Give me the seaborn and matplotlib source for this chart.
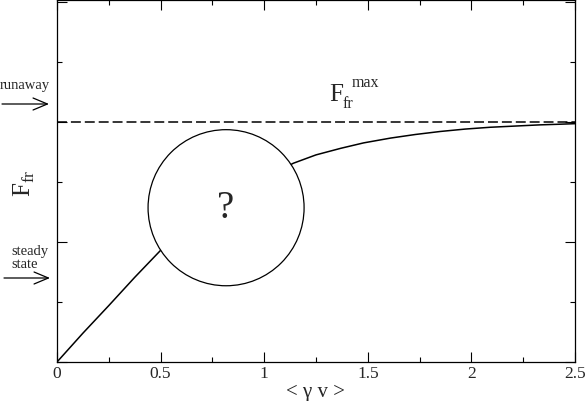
import matplotlib
matplotlib.use("Agg")
import matplotlib.pyplot as plt
import seaborn as sns
import pandas as pd
from matplotlib.patches import Ellipse
from matplotlib.ticker import MultipleLocator

# curve (<gamma v>, F_fr)
gamma_v = [0, 0.125, 0.25, 0.375, 0.5, 0.75, 1.0, 1.14, 1.25, 1.37, 1.48, 1.61,
           1.73, 1.85, 1.97, 2.09, 2.21, 2.33, 2.42, 2.5]
f_fr = [0, 0.48, 0.94, 1.41, 1.86, 2.55, 3.05, 3.31, 3.45, 3.56, 3.65, 3.73,
        3.79, 3.84, 3.88, 3.91, 3.93, 3.95, 3.96, 3.97]
f_max = 4.0
x_ticks = [0, 0.5, 1, 1.5, 2, 2.5]
x_tick_labels = ["0", "0.5", "1", "1.5", "2", "2.5"]

W, H = 585, 402

sns.set_theme(style="ticks")
plt.rcParams["font.family"] = ["Liberation Serif", "DejaVu Serif"]
plt.rcParams["mathtext.fontset"] = "custom"
plt.rcParams["mathtext.rm"] = "Liberation Serif"

fig = plt.figure(figsize=(W / 100, H / 100), dpi=100)
ax = fig.add_axes([57 / W, 39 / H, 518 / W, 362 / H])

df = pd.DataFrame({"x": gamma_v, "y": f_fr})
sns.lineplot(data=df, x="x", y="y", ax=ax, color="black", lw=1.1, zorder=2)
ax.axhline(f_max, color="black", lw=1.1, ls=(0, (6.5, 2.6)), zorder=2)

# the "?" bubble
ax.add_patch(Ellipse((0.816, 2.57), 0.753, 2.6, facecolor="white",
                     edgecolor="black", lw=0.9, zorder=3))
ax.text(0.816, 2.57, "?", fontsize=28, ha="center", va="center", zorder=4)

ax.set_xlim(0, 2.5)
ax.set_ylim(0, 6.03)
ax.set_xticks(x_ticks)
ax.set_xticklabels(x_tick_labels)
ax.xaxis.set_minor_locator(MultipleLocator(0.25))
ax.yaxis.set_major_locator(MultipleLocator(2))
ax.yaxis.set_minor_locator(MultipleLocator(1))
ax.tick_params(which="both", direction="in", top=True, right=True,
               labelleft=False, color="black", width=0.8, labelsize=12.5, pad=2)
ax.tick_params(which="major", length=7)
ax.tick_params(which="minor", length=3.5)
for s in ax.spines.values():
    s.set_linewidth(0.9)
    s.set_color("black")
ax.set_xlabel("< γ v >", fontsize=15, labelpad=1)
ax.set_ylabel("")

def fx(px):
    return px / W

def fy(py):
    return 1 - py / H

# y label F_fr
fig.text(fx(24), fy(183), r"$\mathrm{F}_{\mathrm{fr}}$", fontsize=18,
         rotation=90, ha="center", va="center")

# F_fr^max label
fig.text(fx(329), fy(101), "F", fontsize=18, va="baseline", ha="left")
fig.text(fx(343), fy(108), "fr", fontsize=11.5, va="baseline", ha="left")
fig.text(fx(352), fy(87), "max", fontsize=11.5, va="baseline", ha="left")

# side annotations
fig.text(fx(0), fy(86), "runaway", fontsize=10.5, ha="left", va="center")
fig.text(fx(11), fy(258), "steady\nstate", fontsize=10.5, ha="left",
         va="center", linespacing=0.95)
arrow = dict(arrowstyle="->,head_length=0.86,head_width=0.36", color="black",
             lw=0.9, shrinkA=0, shrinkB=0)
ax.annotate("", xy=(49, H - 105), xytext=(2, H - 105),
            xycoords="figure pixels", textcoords="figure pixels",
            arrowprops=arrow, annotation_clip=False)
ax.annotate("", xy=(50, H - 279), xytext=(4, H - 279),
            xycoords="figure pixels", textcoords="figure pixels",
            arrowprops=arrow, annotation_clip=False)

fig.savefig("out.png", dpi=100)
